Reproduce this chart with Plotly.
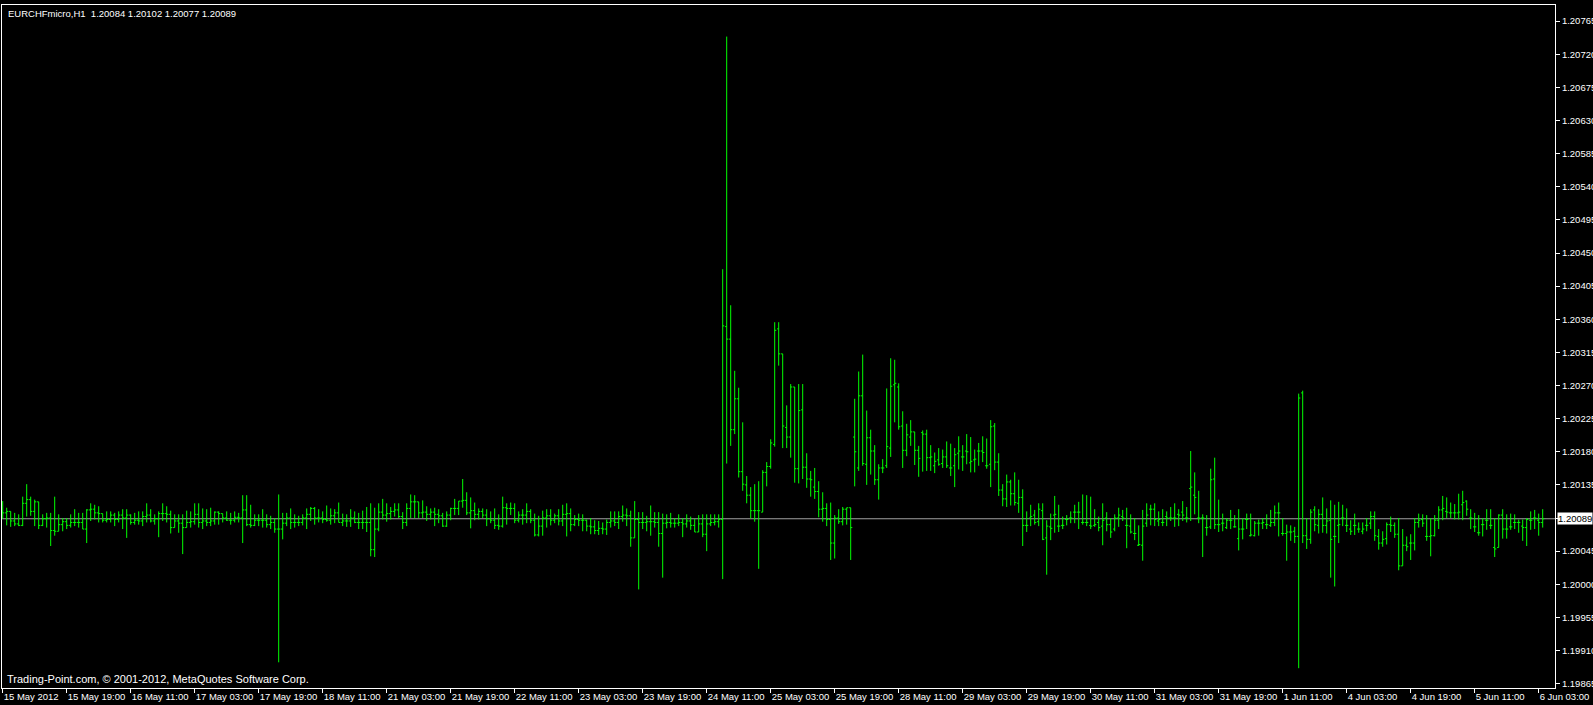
import plotly.graph_objects as go

# Prices are stored in points (1e-5) above BASE
BASE = 1.2
PT = 1e-5

open_pts = [98,97,99,86,82,80,110,115,99,112,80,89,90,73,72,81,85,80,84,84,
            84,75,101,102,97,96,87,88,94,88,94,90,94,84,87,86,92,94,86,89,
            96,96,95,77,86,83,77,84,85,95,84,86,84,86,98,96,90,87,87,91,
            90,101,81,80,87,87,87,81,84,75,75,83,90,84,84,84,90,95,103,90,
            90,88,87,93,97,84,86,86,90,84,84,84,84,47,75,98,94,96,99,101,
            92,84,103,112,112,97,98,95,98,95,93,79,94,103,103,113,114,97,100,95,
            99,94,89,87,80,79,104,103,103,87,94,94,99,87,67,79,90,93,87,93,
            86,95,96,81,88,87,87,79,78,73,76,75,84,86,84,92,94,93,63,88,
            84,84,85,85,84,69,83,84,83,83,84,82,86,80,71,82,68,82,84,85,
            88,350,333,210,252,153,135,121,100,100,98,152,160,190,347,313,213,200,268,157,
            237,159,143,132,126,102,103,88,56,90,85,102,104,200,158,256,163,199,181,142,
            158,161,185,271,268,215,182,200,207,182,206,204,172,161,169,164,173,158,161,178,
            173,181,165,169,181,181,161,163,215,166,128,116,139,123,110,118,80,90,94,85,
            100,63,78,94,79,80,88,90,98,98,84,84,80,80,84,79,90,81,75,90,
            92,80,79,69,53,53,83,102,102,86,84,92,90,90,95,98,90,130,121,90,
            90,77,78,143,81,83,77,87,78,62,75,88,66,66,83,83,81,80,84,97,
            69,69,71,72,65,260,66,61,101,80,95,80,87,65,80,90,80,75,80,75,
            72,80,83,92,65,56,62,81,80,68,25,53,56,56,84,88,65,65,66,87,
            101,99,97,97,97,108,113,90,78,70,81,87,80,50,50,94,75,78,84,84,
            79,77,87,90,87,84]

high_pts = [113,104,99,97,95,119,136,119,115,112,95,97,97,119,95,90,90,95,102,97,
            97,102,110,108,106,96,99,99,97,99,102,102,95,97,99,99,110,102,95,99,
            110,106,100,95,95,95,100,99,110,110,103,102,104,99,99,96,99,97,99,97,
            121,121,108,95,95,102,95,93,90,122,97,97,103,95,93,95,103,105,105,102,
            99,107,103,102,111,96,95,102,99,97,100,105,110,104,110,116,110,105,110,110,
            98,110,122,121,112,114,106,103,104,102,97,99,104,116,113,143,125,118,111,103,
            103,102,99,103,95,119,110,111,110,99,102,110,102,96,93,100,102,102,96,102,
            108,110,103,94,96,95,88,90,87,86,84,88,99,99,99,107,103,100,113,98,
            98,93,107,98,98,96,95,97,90,95,90,95,92,89,94,95,95,95,95,95,
            428,744,379,290,267,220,147,132,136,140,155,166,197,356,356,313,243,272,268,272,
            272,178,154,158,140,125,110,111,94,102,105,104,104,252,289,312,236,210,189,163,
            170,266,307,305,273,235,218,223,207,188,209,210,189,179,185,183,194,191,185,201,
            189,204,200,183,192,201,198,223,219,178,136,149,142,152,142,129,99,108,101,110,
            110,87,96,120,108,92,94,99,108,112,122,121,119,102,92,110,98,90,95,104,
            101,104,95,90,80,101,110,108,110,99,102,99,105,110,102,113,105,181,152,127,
            95,94,157,172,115,96,90,101,94,102,90,96,96,86,88,90,95,101,107,111,
            90,81,80,78,259,263,90,102,106,102,118,103,114,108,112,108,103,87,96,84,
            84,90,99,99,75,72,84,92,84,90,75,65,68,90,96,95,94,90,94,106,
            120,118,111,109,123,127,114,102,97,94,90,102,102,90,95,102,95,96,95,88,
            88,90,99,101,96,102]

low_pts = [89,80,78,79,79,79,92,93,79,75,79,77,52,66,72,72,75,77,79,77,
           75,56,86,88,84,84,84,84,79,84,75,63,81,81,81,79,84,84,81,64,
           86,84,69,77,70,41,77,77,81,77,75,79,79,81,81,84,86,81,84,84,
           56,79,77,79,79,77,77,75,70,-106,61,79,75,77,79,80,75,86,81,84,
           83,85,81,83,84,79,78,78,83,75,75,71,38,37,72,88,85,88,92,90,
           75,79,90,90,90,90,86,88,79,83,78,78,87,94,94,104,94,76,87,88,
           90,79,83,75,74,77,81,94,83,84,81,83,83,65,65,66,77,80,83,80,
           79,65,72,79,79,72,72,68,68,67,68,67,77,79,75,85,79,51,63,-7,
           75,72,66,77,51,9,76,77,77,79,64,77,74,71,71,64,45,79,80,77,
           7,164,188,204,145,127,110,89,85,21,98,133,157,187,297,185,185,172,138,137,
           143,131,119,116,91,85,79,33,35,82,80,81,33,133,154,161,135,149,135,115,
           151,158,173,220,210,158,174,188,162,146,153,154,154,151,161,158,158,147,132,156,
           154,163,152,152,161,166,157,132,155,120,106,105,107,107,97,52,71,79,81,79,
           60,13,60,70,71,75,80,83,83,75,81,79,75,78,72,53,72,63,72,78,
           86,49,69,60,52,32,78,80,79,79,79,79,86,78,79,86,84,86,95,83,
           37,66,75,75,71,72,75,75,77,46,61,75,65,65,66,75,75,78,79,65,
           66,32,59,56,-114,56,48,55,72,69,70,69,9,-3,56,79,71,67,67,70,
           68,72,75,59,47,51,54,71,63,19,25,45,33,46,77,78,59,38,65,75,
           87,90,90,88,88,87,93,75,71,66,65,74,75,37,50,62,62,74,75,70,
           59,52,74,75,66,77]

close_pts = [97,99,86,82,80,110,115,99,112,80,89,90,73,72,81,85,80,84,84,84,
             75,101,102,97,96,87,88,94,88,94,90,94,84,87,86,92,94,86,89,96,
             96,95,77,86,83,77,84,85,95,84,86,84,86,98,96,90,87,87,91,90,
             101,81,80,87,87,87,81,84,75,75,83,90,84,84,84,90,95,103,90,90,
             88,87,93,97,84,86,86,90,84,84,84,84,47,75,98,94,96,99,101,92,
             84,103,112,112,97,98,95,98,95,93,79,94,103,103,113,114,97,100,95,99,
             94,89,87,80,79,104,103,103,87,94,94,99,87,67,79,90,93,87,93,86,
             95,96,81,88,87,87,79,78,73,76,75,84,86,84,92,94,93,63,88,84,
             84,85,85,84,69,83,84,83,83,84,82,86,80,71,82,68,82,84,85,88,
             351,333,210,252,153,136,121,100,100,100,152,160,192,345,313,215,200,268,157,236,
             159,143,142,126,102,103,88,56,90,85,102,104,77,180,256,164,199,181,142,158,
             158,187,269,273,214,182,203,207,182,171,204,172,173,167,163,173,161,158,176,181,
             173,180,167,170,181,179,161,214,166,128,116,139,123,111,118,80,80,92,84,102,
             61,79,76,95,79,80,88,90,98,98,84,84,79,81,77,87,81,71,90,94,
             90,80,71,69,54,79,94,102,88,88,84,90,90,90,94,94,90,132,118,90,
             90,77,142,81,81,83,87,87,78,75,75,88,67,83,83,84,81,84,97,97,
             69,71,71,65,253,66,61,98,81,95,80,86,61,65,81,90,80,72,80,75,
             75,80,92,66,56,61,81,80,68,25,53,51,56,84,87,83,65,66,87,101,
             103,98,97,97,98,111,102,90,78,70,81,87,80,48,94,75,75,78,84,84,
             77,88,87,90,84,89]

time_labels = ["15 May 2012", "15 May 19:00", "16 May 11:00", "17 May 03:00", "17 May 19:00",
               "18 May 11:00", "21 May 03:00", "21 May 19:00", "22 May 11:00", "23 May 03:00",
               "23 May 19:00", "24 May 11:00", "25 May 03:00", "25 May 19:00", "28 May 11:00",
               "29 May 03:00", "29 May 19:00", "30 May 11:00", "31 May 03:00", "31 May 19:00",
               "1 Jun 11:00", "4 Jun 03:00", "4 Jun 19:00", "5 Jun 11:00", "6 Jun 03:00"]
BARS_PER_LABEL = 16

price_ticks = [1.19865, 1.19910, 1.19955, 1.20000, 1.20045, 1.20090, 1.20135, 1.20180,
               1.20225, 1.20270, 1.20315, 1.20360, 1.20405, 1.20450, 1.20495, 1.20540,
               1.20585, 1.20630, 1.20675, 1.20720, 1.20765]

last_close = 1.20089
header = "EURCHFmicro,H1  1.20084 1.20102 1.20077 1.20089"
copyright_text = "Trading-Point.com, \u00a9 2001-2012, MetaQuotes Software Corp."

o = [BASE + v * PT for v in open_pts]
h = [BASE + v * PT for v in high_pts]
l = [BASE + v * PT for v in low_pts]
c = [BASE + v * PT for v in close_pts]
xs = list(range(len(o)))

# the price-tag of the last close hides the tick label that lies under it
price_text = ["" if abs(v - last_close) < 0.0002 else f"{v:.5f}" for v in price_ticks]

FONT = "Liberation Sans, Arial, sans-serif"
GREEN = "#00FF00"

fig = go.Figure()
fig.add_trace(go.Ohlc(
    x=xs, open=o, high=h, low=l, close=c,
    increasing=dict(line=dict(color=GREEN, width=1)),
    decreasing=dict(line=dict(color=GREEN, width=1)),
    tickwidth=0.4, hoverinfo="skip", showlegend=False,
))

fig.add_shape(type="line", xref="paper", x0=0, x1=1, yref="y", y0=last_close, y1=last_close,
              line=dict(color="#A0A0A0", width=1), layer="below")

fig.update_layout(
    width=1593, height=705,
    margin=dict(l=2, r=38, t=5, b=17, pad=0),
    paper_bgcolor="black", plot_bgcolor="black",
    font=dict(family=FONT, size=9.5, color="white"),
    showlegend=False,
    xaxis=dict(
        range=[-0.175, 388.075], rangeslider=dict(visible=False),
        tickvals=[i * BARS_PER_LABEL for i in range(len(time_labels))],
        ticktext=time_labels, ticks="outside", ticklen=4, tickcolor="white",
        ticklabelposition="outside right", tickangle=0,
        showgrid=False, zeroline=False, showline=True, linecolor="white", linewidth=1,
        mirror=True, automargin=False, fixedrange=True,
        tickfont=dict(family=FONT, size=9.5, color="white"),
    ),
    yaxis=dict(
        range=[1.198591, 1.207869], side="right",
        tickvals=price_ticks, ticktext=price_text,
        ticks="outside", ticklen=4, tickcolor="white",
        showgrid=False, zeroline=False, showline=True, linecolor="white", linewidth=1,
        mirror=True, automargin=False, fixedrange=True,
        tickfont=dict(family=FONT, size=9.5, color="white"),
    ),
)

fig.add_annotation(xref="paper", yref="paper", x=0, y=1, xanchor="left", yanchor="top",
                   xshift=4, yshift=-1, text=header, showarrow=False,
                   font=dict(family=FONT, size=9.5, color="white"))
fig.add_annotation(xref="paper", yref="paper", x=0, y=0, xanchor="left", yanchor="bottom",
                   xshift=3, yshift=1, text=copyright_text, showarrow=False,
                   font=dict(family=FONT, size=11, color="white"))
fig.add_annotation(xref="paper", yref="y", x=1, y=last_close, xanchor="left", yanchor="middle",
                   xshift=2, text=f"{last_close:.5f}", showarrow=False,
                   bgcolor="white", borderpad=0,
                   font=dict(family=FONT, size=9.5, color="black"))

fig.write_html("out.html", config={"displayModeBar": False},
               post_script="document.body.style.margin='0';document.body.style.background='black';")
